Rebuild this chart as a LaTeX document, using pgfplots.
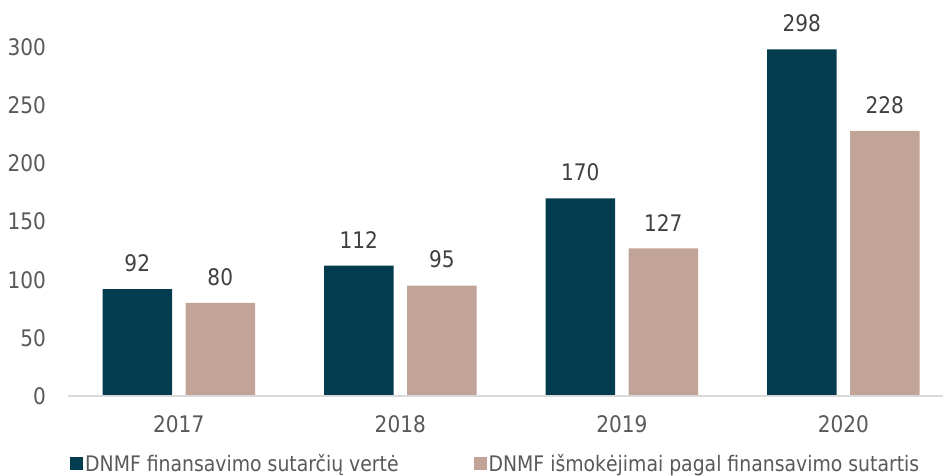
\documentclass[border=0pt]{standalone}
\usepackage{pgfplots}
\pgfplotsset{compat=1.18}
\usepackage{fontspec}
\setmainfont[FakeStretch=0.88]{DejaVu Sans}
\definecolor{dark}{RGB}{4,60,79}
\definecolor{light}{RGB}{194,163,152}
\definecolor{txt}{RGB}{89,89,89}
\definecolor{lbl}{RGB}{64,64,64}
\definecolor{axisgray}{RGB}{217,217,217}
\begin{document}
\begin{tikzpicture}
\begin{axis}[
  scale only axis, width=875pt, height=396pt,
  xmin=-0.5, xmax=3.45, ymin=0, ymax=340.5,
  ybar=13.5pt, bar width=69.5pt,
  axis line style={draw=none},
  major tick length=0pt,
  xtick={0,1,2,3}, xticklabels={2017,2018,2019,2020},
  ytick={0,50,100,150,200,250,300},
  /pgf/number format/assume math mode=true,
  tick label style={font=\fontsize{22.8}{27}\selectfont, text=txt, inner sep=0pt},
  xticklabel style={yshift=-19pt},
  yticklabel style={xshift=-22pt},
  nodes near coords,
  nodes near coords style={font=\fontsize{22.8}{27}\selectfont, text=lbl, inner sep=0pt, yshift=17pt, anchor=south},
  legend columns=2,
  legend style={draw=none, fill=none, inner sep=0pt, font=\fontsize{21.4}{24}\selectfont, text=txt,
    at={(rel axis cs:0,0)}, anchor=north west, xshift=2pt, yshift=-56pt,
    /tikz/every even column/.append style={column sep=73pt}},
  legend image code/.code={\fill[#1,draw=none] (0pt,-6pt) rectangle (13pt,7pt);},
]
\addplot[fill=dark, draw=none] coordinates {(0,92) (1,112) (2,170) (3,298)};
\addlegendentry{DNMF finansavimo sutarčių vertė}
\addplot[fill=light, draw=none] coordinates {(0,80) (1,95) (2,127) (3,228)};
\addlegendentry{DNMF išmokėjimai pagal finansavimo sutartis}
\draw[axisgray, line width=1.5pt] (rel axis cs:0,0) -- (rel axis cs:1,0);
\end{axis}
\pgfresetboundingbox
\path (current axis.south west) ++(-68pt,-79pt) rectangle ++(943pt,475pt);
\end{tikzpicture}
\end{document}
